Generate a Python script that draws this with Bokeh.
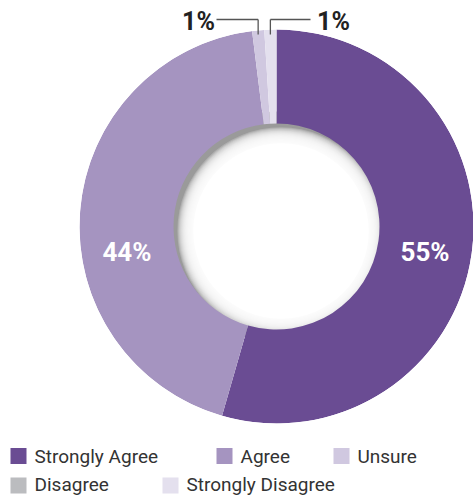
import math
from bokeh.plotting import figure
from bokeh.models import Range1d, ColumnDataSource
from bokeh.core.properties import value
from bokeh.embed import file_html
from bokeh.resources import INLINE

# ---- data ----
categories = ["Strongly Agree", "Agree", "Unsure", "Disagree", "Strongly Disagree"]
percents = [55, 44, 1, 0, 1]
colors = ["#6a4c93", "#a594c0", "#d0c8e0", "#bbbcbf", "#e4e0ee"]
inside_labels = ["55%", "44%"]          # white labels for the big slices
outside_labels = ["1%", "1%"]           # callouts for Unsure, Strongly Disagree

# ---- layout (screen px -> data: x = sx, y = H - sy) ----
W, H = 473, 495
def Y(sy):
    return H - sy

cx, cy = 276, Y(226)
R_out, R_in = 197, 103

p = figure(width=W, height=H, output_backend="svg", toolbar_location=None,
           x_range=Range1d(0, W), y_range=Range1d(0, H),
           min_border=0, outline_line_color=None)
p.axis.visible = False
p.grid.visible = False
p.background_fill_color = "white"
p.border_fill_color = "white"

# inner hole with soft inset shadow (drawn first, ring covers overflow)
p.circle(x=cx, y=cy, radius=R_in + 12, fill_color="#9a9a9a", line_color=None)
d = 4.5
dist = d * math.sqrt(2)
N = 16
for k in range(N):
    r = R_in - dist + 7 - k * 1.0
    p.circle(x=cx + d, y=cy - d, radius=r, fill_color="white",
             fill_alpha=0.22, line_color=None)
p.circle(x=cx + d, y=cy - d, radius=R_in - dist + 7 - N * 1.0,
         fill_color="white", line_color=None)

total = sum(percents)
starts, ends, mids, wc, wcat = [], [], [], [], []
cum = 0.0
for v, c, cat in zip(percents, colors, categories):
    a0 = cum / total * 2 * math.pi
    cum += v
    a1 = cum / total * 2 * math.pi
    mids.append((a0 + a1) / 2)   # clockwise from top
    if v > 0:
        starts.append(math.pi / 2 - a0)
        ends.append(math.pi / 2 - a1)
        wc.append(c)
        wcat.append(cat)

src = ColumnDataSource(dict(start=starts, end=ends, color=wc, cat=wcat))
p.annular_wedge(x=cx, y=cy, inner_radius=R_in, outer_radius=R_out,
                start_angle="start", end_angle="end", direction="clock",
                fill_color="color", line_color=None, source=src)
p.annulus(x=cx, y=cy, inner_radius=R_out, outer_radius=R_out + 20,
          fill_color="white", line_color=None)

# inside labels for the two large slices
lab_r = (R_in + R_out) / 2
ix = [cx + lab_r * math.sin(mids[i]) for i in range(2)]
iy = [Y(251)] * 2
p.text(x=ix, y=iy, text=inside_labels, text_color="white",
       text_font=value("Roboto"), text_font_style="bold", text_font_size="26px",
       text_align="center", text_baseline="middle")

# outside callouts for Unsure (idx 2) and Strongly Disagree (idx 4)
call_idx = [2, 4]
line_y = Y(19)
tip_y = Y(34)
lx = [cx + R_out * math.sin(mids[i]) for i in call_idx]
p.segment(x0=lx, y0=[tip_y] * 2, x1=lx, y1=[line_y] * 2, line_color="#555555", line_width=1.3)
p.segment(x0=[216, lx[1]], y0=[line_y] * 2, x1=[lx[0], 310], y1=[line_y] * 2,
          line_color="#555555", line_width=1.3)
p.text(x=[198, 333], y=[Y(21)] * 2, text=outside_labels, text_color="#222222",
       text_font=value("Roboto"), text_font_style="bold", text_font_size="25px",
       text_align="center", text_baseline="middle")

# legend
leg_sx = [18, 224, 341, 18, 170]
leg_sy = [455.5, 455.5, 455.5, 485, 485]
txt_sy = [455.5, 455.5, 455.5, 483.5, 483.5]
p.rect(x=leg_sx, y=[Y(s) for s in leg_sy], width=16, height=16,
       fill_color=colors, line_color=None)
p.text(x=[s + 16 for s in leg_sx], y=[Y(s) for s in txt_sy], text=categories,
       text_color="#333333", text_font=value("Roboto"), text_font_size="19px",
       text_align="left", text_baseline="middle")

open("out.html", "w").write(file_html(p, INLINE))
